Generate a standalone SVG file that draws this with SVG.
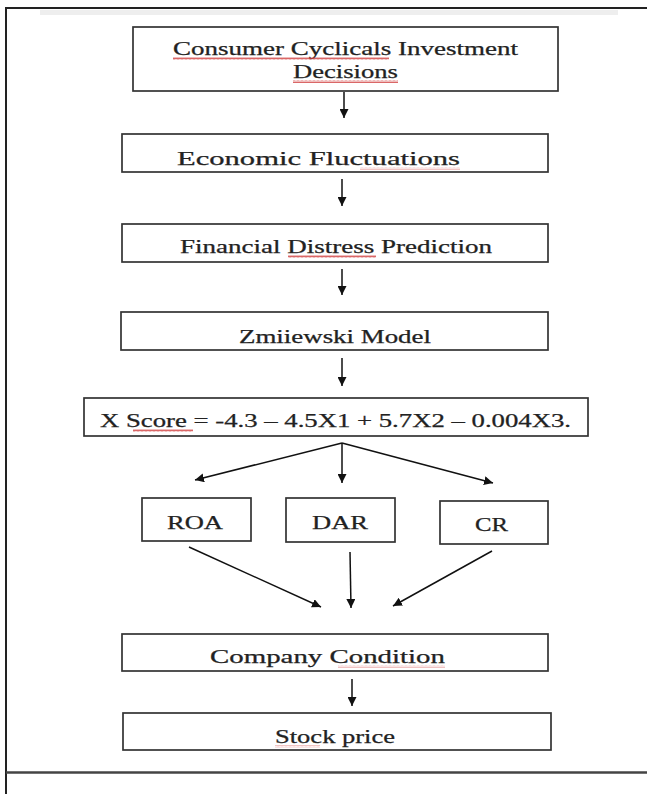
<svg xmlns="http://www.w3.org/2000/svg" width="647" height="794" viewBox="0 0 647 794">
  <defs>
    <marker id="ah" viewBox="0 0 10 10" refX="10" refY="5" markerWidth="9" markerHeight="9" markerUnits="userSpaceOnUse" orient="auto">
      <path d="M0,0 L10,5 L0,10 z" fill="#111"/>
    </marker>
    <pattern id="wave" x="0" y="0" width="4" height="3" patternUnits="userSpaceOnUse">
      <path d="M0,2.5 L1,0.5 L2,2.5 L3,0.5 L4,2.5" fill="none" stroke="#d04040" stroke-width="0.8"/>
    </pattern>
  </defs>
  <style>
    .box { fill: #fff; stroke: #333; stroke-width: 1.7; }
    .lbl { font-family: "Liberation Serif", "Times New Roman", serif; font-size: 18px; fill: #222; stroke: #222; stroke-width: 0.25; text-anchor: start; }
    .con { stroke: #111; stroke-width: 1.5; fill: none; marker-end: url(#ah); }
    .frame { stroke: #222; stroke-width: 2; fill: none; }
  </style>
  <rect x="0" y="0" width="647" height="794" fill="#fff"/>
  <g id="frame">
    <rect x="40" y="10" width="578" height="5" fill="#eeeeee"/>
    <line class="frame" x1="5" y1="8" x2="647" y2="8"/>
    <line class="frame" x1="6" y1="7" x2="6" y2="794"/>
    <line x1="6" y1="772.5" x2="647" y2="772.5" stroke="#444" stroke-width="2.5"/>
  </g>

  <g id="node-consumer">
    <rect class="box" x="133" y="27" width="425" height="64"/>
    <text class="lbl" x="173" y="55" textLength="345" lengthAdjust="spacingAndGlyphs">Consumer Cyclicals Investment</text>
    <text class="lbl" x="293" y="78" textLength="105" lengthAdjust="spacingAndGlyphs">Decisions</text>
    <rect x="173" y="57" width="216" height="3" fill="url(#wave)"/>
    <rect x="293" y="80" width="105" height="3" fill="url(#wave)"/>
  </g>
  <g id="node-economic">
    <rect class="box" x="122" y="134" width="426" height="38"/>
    <text class="lbl" x="177" y="165" textLength="283" lengthAdjust="spacingAndGlyphs">Economic Fluctuations</text>
    <rect x="360" y="167" width="100" height="3" fill="url(#wave)" opacity="0.4"/>
  </g>
  <g id="node-distress">
    <rect class="box" x="122" y="224" width="426" height="38"/>
    <text class="lbl" x="180" y="253" textLength="312" lengthAdjust="spacingAndGlyphs">Financial Distress Prediction</text>
    <rect x="288" y="255" width="88" height="3" fill="url(#wave)"/>
  </g>
  <g id="node-zmijewski">
    <rect class="box" x="121" y="312" width="427" height="38"/>
    <text class="lbl" x="239" y="343" textLength="192" lengthAdjust="spacingAndGlyphs">Zmiiewski Model</text>
  </g>
  <g id="node-xscore">
    <rect class="box" x="84" y="398" width="504" height="38"/>
    <text class="lbl" x="100" y="427" textLength="471" lengthAdjust="spacingAndGlyphs">X Score = -4.3 – 4.5X1 + 5.7X2 – 0.004X3.</text>
    <rect x="133" y="429" width="60" height="3" fill="url(#wave)"/>
  </g>
  <g id="node-roa">
    <rect class="box" x="142" y="498" width="109" height="43"/>
    <text class="lbl" x="167" y="529" textLength="56" lengthAdjust="spacingAndGlyphs">ROA</text>
  </g>
  <g id="node-dar">
    <rect class="box" x="286" y="498" width="109" height="44"/>
    <text class="lbl" x="312" y="529" textLength="56" lengthAdjust="spacingAndGlyphs">DAR</text>
  </g>
  <g id="node-cr">
    <rect class="box" x="440" y="501" width="108" height="43"/>
    <text class="lbl" x="475" y="531" textLength="33" lengthAdjust="spacingAndGlyphs">CR</text>
  </g>
  <g id="node-company">
    <rect class="box" x="122" y="634" width="426" height="37"/>
    <text class="lbl" x="210" y="663" textLength="235" lengthAdjust="spacingAndGlyphs">Company Condition</text>
    <rect x="338" y="665" width="107" height="3" fill="url(#wave)" opacity="0.4"/>
  </g>
  <g id="node-stock">
    <rect class="box" x="123" y="713" width="428" height="37"/>
    <text class="lbl" x="275" y="743" textLength="120" lengthAdjust="spacingAndGlyphs">Stock price</text>
    <rect x="275" y="745" width="45" height="3" fill="url(#wave)" opacity="0.4"/>
  </g>

  <g id="connectors">
    <line class="con" x1="344" y1="92" x2="344" y2="118"/>
    <line class="con" x1="342" y1="179" x2="342" y2="206"/>
    <line class="con" x1="342" y1="269" x2="342" y2="295"/>
    <line class="con" x1="342" y1="358" x2="342" y2="386"/>
    <line class="con" x1="342" y1="443" x2="195" y2="480"/>
    <line class="con" x1="342" y1="443" x2="342" y2="483"/>
    <line class="con" x1="342" y1="443" x2="493" y2="483"/>
    <line class="con" x1="189" y1="547" x2="321" y2="607"/>
    <line class="con" x1="350" y1="552" x2="351" y2="608"/>
    <line class="con" x1="492" y1="551" x2="393" y2="606"/>
    <line class="con" x1="352" y1="679" x2="352" y2="706"/>
  </g>
</svg>
